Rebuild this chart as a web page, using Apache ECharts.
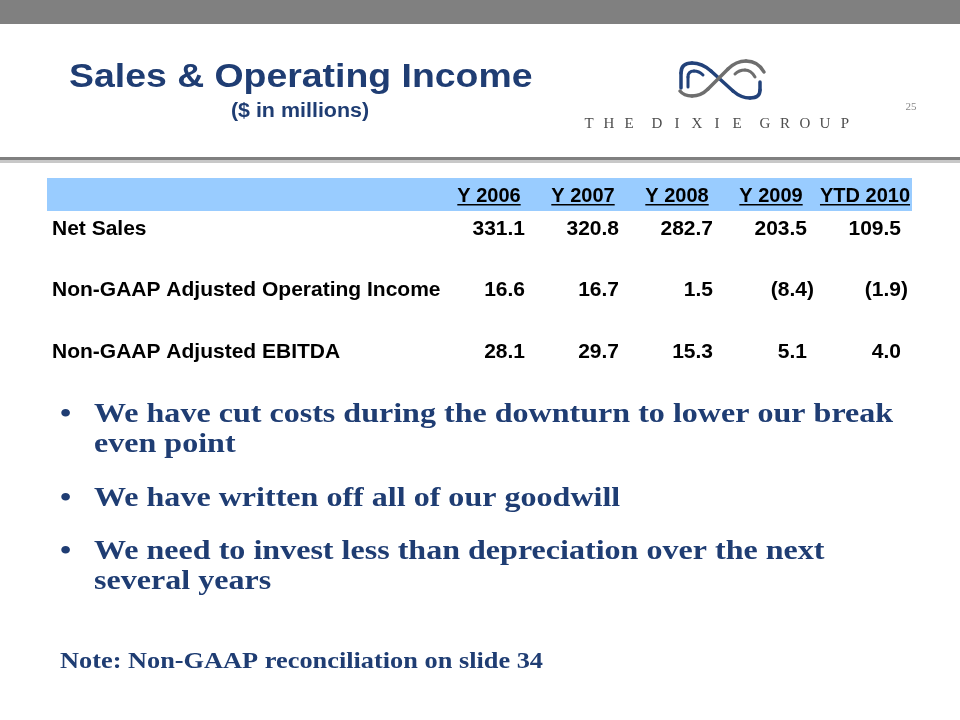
<!DOCTYPE html>
<html>
<head>
<meta charset="utf-8">
<script src="https://cdn.jsdelivr.net/npm/echarts@6/dist/echarts.min.js"></script>
<style>
  html, body { margin: 0; padding: 0; background: #fff; }
  #main { width: 960px; height: 720px; }
</style>
</head>
<body>
<div id="main"></div>
<script>
// table data
var columns = ['Y 2006', 'Y 2007', 'Y 2008', 'Y 2009', 'YTD 2010'];
var rows = ['Net Sales', 'Non-GAAP Adjusted Operating Income', 'Non-GAAP Adjusted EBITDA'];
var netSales = [331.1, 320.8, 282.7, 203.5, 109.5];
var operatingIncome = [16.6, 16.7, 1.5, -8.4, -1.9];
var ebitda = [28.1, 29.7, 15.3, 5.1, 4.0];

var bullets = [
  'We have cut costs during the downturn to lower our break\neven point',
  'We have written off all of our goodwill',
  'We need to invest less than depreciation over the next\nseveral years'
];
var note = 'Note: Non-GAAP reconciliation on slide 34';

var SANS = '"Liberation Sans", Arial, sans-serif';
var SERIF = '"Liberation Serif", "Times New Roman", serif';
var BLUE = '#1f3d73';

var chart = echarts.init(document.getElementById('main'), null, { renderer: 'canvas' });

var measureCtx = document.createElement('canvas').getContext('2d');
function textWidth(str, font) {
  measureCtx.font = font;
  return measureCtx.measureText(str).width;
}

function fmt(v) {
  return v < 0 ? '(' + Math.abs(v).toFixed(1) + ')' : v.toFixed(1);
}

// turns a tiny "M L V Q" path into graphic line / bezierCurve pieces
function strokePath(d, color, width) {
  var tok = d.replace(/,/g, ' ').replace(/([A-Z])/g, ' $1 ').trim().split(/\s+/);
  var out = [], x = 0, y = 0, i = 0, cmd;
  function st() { return { stroke: color, lineWidth: width, lineCap: 'round' }; }
  while (i < tok.length) {
    if (/^[A-Z]$/.test(tok[i])) cmd = tok[i++];
    if (cmd === 'M') { x = +tok[i++]; y = +tok[i++]; }
    else if (cmd === 'L') {
      var nx = +tok[i++], ny = +tok[i++];
      out.push({ type: 'line', shape: { x1: x, y1: y, x2: nx, y2: ny }, style: st() });
      x = nx; y = ny;
    } else if (cmd === 'V') {
      var vy = +tok[i++];
      out.push({ type: 'line', shape: { x1: x, y1: y, x2: x, y2: vy }, style: st() });
      y = vy;
    } else if (cmd === 'Q') {
      var cx = +tok[i++], cy = +tok[i++], qx = +tok[i++], qy = +tok[i++];
      out.push({ type: 'bezierCurve', shape: { x1: x, y1: y, cpx1: cx, cpy1: cy, x2: qx, y2: qy }, style: st() });
      x = qx; y = qy;
    } else { i++; }
  }
  return out;
}

var cells = [];
[netSales, operatingIncome, ebitda].forEach(function (list, r) {
  list.forEach(function (v, c) {
    cells.push([c, r, v]);
  });
});

var brand = '{a|T}{a|H}{a|E}{g|}{a|D}{a|I}{a|X}{a|I}{a|E}{g|}{a|G}{a|R}{a|O}{a|U}{a|P}';

// slide decoration + free text
var graphics = [
  { type: 'rect', shape: { x: 0, y: 0, width: 960, height: 24 }, style: { fill: '#808080' } },
  { type: 'rect', shape: { x: 0, y: 157, width: 960, height: 3 }, style: { fill: '#808080' } },
  { type: 'rect', shape: { x: 0, y: 160, width: 960, height: 3 }, style: { fill: '#c8c8c8' } },
  { type: 'rect', shape: { x: 47, y: 178, width: 865, height: 33 }, style: { fill: '#99ccff' }, z: -10 },
  {
    type: 'text', x: 69, y: 78, scaleX: 1.1,
    style: { text: 'Sales & Operating Income', fill: BLUE, font: 'bold 34px ' + SANS, verticalAlign: 'middle' }
  },
  {
    type: 'text', x: 300, y: 112, scaleX: 1.1,
    style: { text: '($ in millions)', fill: BLUE, font: 'bold 19.5px ' + SANS, align: 'center', verticalAlign: 'middle' }
  },
  {
    type: 'text', x: 579, y: 124,
    style: {
      text: brand,
      verticalAlign: 'middle',
      rich: {
        a: { width: 20, align: 'center', fontFamily: SERIF, fontSize: 15, fill: '#4d4d4d' },
        g: { width: 8 }
      }
    }
  },
  {
    type: 'text', x: 911, y: 107,
    style: { text: '25', fill: '#888', font: '11px ' + SERIF, align: 'center', verticalAlign: 'middle' }
  },
  {
    type: 'text', x: 60, y: 662, scaleX: 1.145,
    style: { text: note, fill: BLUE, font: 'bold 23px ' + SERIF, verticalAlign: 'middle' }
  }
];

// logo strokes
graphics = graphics
  .concat(strokePath('M681,88 V73 Q681,63 692,63 Q702,63 711,71 L733,91 Q741,98 750,98 Q760,98 760,90 V82', '#22427a', 3.5))
  .concat(strokePath('M688,87 V77 Q688,71 694,71 Q699,71 703,75', '#22427a', 3))
  .concat(strokePath('M764,72 Q758,61 746,61 Q736,61 728,69 L708,89 Q701,96 692,96 Q684,96 680,91', '#6e6e6e', 3.5))
  .concat(strokePath('M755,77 Q751,70 745,70 Q739,70 735,74', '#6e6e6e', 3));

var bulletTops = [399.5, 483.5, 536.5];
bullets.forEach(function (b, i) {
  graphics.push({
    type: 'text', x: 60, y: bulletTops[i], scaleX: 1.145,
    style: { text: '\u2022', fill: BLUE, font: 'bold 28px ' + SERIF, verticalAlign: 'top', lineHeight: 30 }
  });
  graphics.push({
    type: 'text', x: 94, y: bulletTops[i], scaleX: 1.145,
    style: { text: b, fill: BLUE, font: 'bold 28px ' + SERIF, verticalAlign: 'top', lineHeight: 30 }
  });
});

var option = {
  backgroundColor: '#ffffff',
  animation: false,
  graphic: graphics,
  grid: [
    { left: 442, width: 470, top: 178, height: 33 },
    { left: 442, width: 470, top: 198, height: 185 }
  ],
  xAxis: [
    { type: 'category', gridIndex: 0, data: columns, show: false },
    { type: 'category', gridIndex: 1, data: columns, show: false }
  ],
  yAxis: [
    { type: 'value', gridIndex: 0, min: 0, max: 1, show: false },
    {
      type: 'category', gridIndex: 1, data: rows, inverse: true,
      axisLine: { show: false }, axisTick: { show: false }, splitLine: { show: false },
      axisLabel: { align: 'left', margin: 390, fontSize: 21, fontWeight: 'bold', color: '#000', fontFamily: SANS }
    }
  ],
  series: [
    {
      // column headers with underline
      type: 'custom', xAxisIndex: 0, yAxisIndex: 0,
      data: columns.map(function (c, i) { return [i, 0]; }),
      renderItem: function (params, api) {
        var i = api.value(0);
        var p = api.coord([i, 0]);
        var font = 'bold 20px ' + SANS;
        var w = textWidth(columns[i], font);
        return {
          type: 'group',
          children: [
            { type: 'text', style: { x: p[0], y: p[1] - 15, text: columns[i], font: font, fill: '#000', align: 'center', verticalAlign: 'middle' } },
            { type: 'rect', shape: { x: p[0] - w / 2, y: p[1] - 7, width: w, height: 1.6 }, style: { fill: '#000' } }
          ]
        };
      }
    },
    {
      // table values
      type: 'custom', xAxisIndex: 1, yAxisIndex: 1,
      data: cells,
      renderItem: function (params, api) {
        var v = api.value(2);
        var p = api.coord([api.value(0), api.value(1)]);
        return {
          type: 'text',
          style: {
            x: p[0] + 36 + (v < 0 ? 7 : 0), y: p[1],
            text: fmt(v), font: 'bold 21px ' + SANS, fill: '#000',
            align: 'right', verticalAlign: 'middle'
          }
        };
      }
    }
  ]
};

chart.setOption(option);
</script>
</body>
</html>
